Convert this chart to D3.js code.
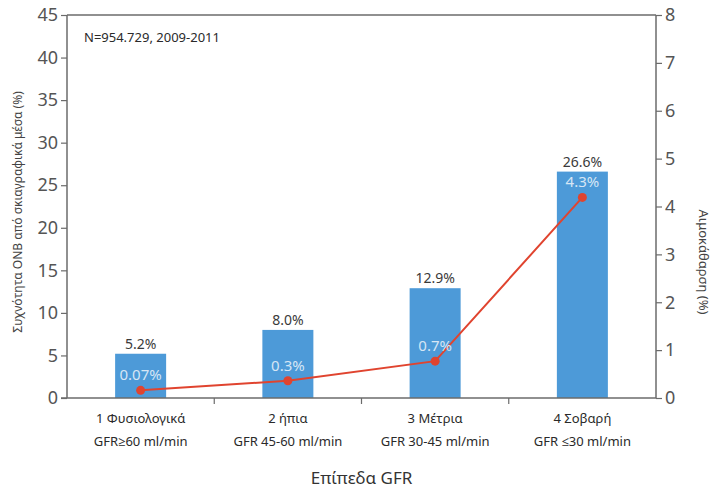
<!DOCTYPE html>
<html>
<head>
<meta charset="utf-8">
<script src="https://cdn.jsdelivr.net/npm/d3@7"></script>
<style>
  body { margin: 0; background: #fff; }
  svg text { font-family: "Noto Sans", "Open Sans", sans-serif; }
</style>
</head>
<body>
<svg id="chart" width="726" height="496"></svg>
<script>
const categories = ["1 Φυσιολογικά", "2 ήπια", "3 Μέτρια", "4 Σοβαρή"];
const subLabels = ["GFR≥60 ml/min", "GFR 45-60 ml/min", "GFR 30-45 ml/min", "GFR ≤30 ml/min"];
const onbValues = [5.2, 8.0, 12.9, 26.6];
const onbLabels = ["5.2%", "8.0%", "12.9%", "26.6%"];
// dialysis points as plotted in the picture; labels as printed
const dialysisValues = [0.16, 0.36, 0.77, 4.19];
const dialysisLabels = ["0.07%", "0.3%", "0.7%", "4.3%"];
const leftTicks = [0, 5, 10, 15, 20, 25, 30, 35, 40, 45];
const rightTicks = [0, 1, 2, 3, 4, 5, 6, 7, 8];

const svg = d3.select("#chart");
const margin = { top: 15, right: 70, bottom: 98, left: 67 };
const width = 726 - margin.left - margin.right;
const height = 496 - margin.top - margin.bottom;

const g = svg.append("g").attr("transform", `translate(${margin.left},${margin.top})`);

const x = d3.scaleBand().domain(categories).range([0, width]).paddingInner(0).paddingOuter(0);
const yL = d3.scaleLinear().domain([0, 45]).range([height, 0]);
const yR = d3.scaleLinear().domain([0, 8]).range([height, 0]);
const barW = 51;
const axisColor = "#6b6b6b";
const cx = i => x(categories[i]) + x.bandwidth() / 2;

// bars
g.selectAll(".bar")
  .data(onbValues)
  .join("rect")
  .attr("class", "bar")
  .attr("x", (d, i) => cx(i) - barW / 2)
  .attr("width", barW)
  .attr("y", d => yL(d))
  .attr("height", d => height - yL(d))
  .style("fill", "#4d9ad8");

// bar labels
g.selectAll(".bar-label")
  .data(onbValues)
  .join("text")
  .attr("x", (d, i) => cx(i))
  .attr("y", d => yL(d) - 5)
  .attr("text-anchor", "middle")
  .style("font-size", "14px")
  .style("fill", "#3a3a3a")
  .text((d, i) => onbLabels[i]);

// line
const line = d3.line()
  .x((d, i) => cx(i))
  .y(d => yR(d));

g.append("path")
  .datum(dialysisValues)
  .attr("d", line)
  .style("fill", "none")
  .style("stroke", "#e0442f")
  .style("stroke-width", 2);

g.selectAll(".dot")
  .data(dialysisValues)
  .join("circle")
  .attr("cx", (d, i) => cx(i))
  .attr("cy", d => yR(d))
  .attr("r", 4.5)
  .style("fill", "#e0442f");

g.selectAll(".line-label")
  .data(dialysisValues)
  .join("text")
  .attr("x", (d, i) => cx(i))
  .attr("y", d => yR(d) - 10)
  .attr("text-anchor", "middle")
  .style("font-size", "15px")
  .style("fill", "#d6e6f5")
  .text((d, i) => dialysisLabels[i]);

// axes
const leftAxis = g.append("g")
  .call(d3.axisLeft(yL).tickValues(leftTicks).tickSize(6).tickPadding(3));
const rightAxis = g.append("g")
  .attr("transform", `translate(${width},0)`)
  .call(d3.axisRight(yR).tickValues(rightTicks).tickSize(6).tickPadding(3));

[leftAxis, rightAxis].forEach(a => {
  a.select(".domain").style("stroke", axisColor).style("stroke-width", 1.5)
    .attr("d", `M0,${height}V0`);
  a.selectAll(".tick line").style("stroke", axisColor).style("stroke-width", 1.2);
  a.selectAll(".tick text")
    .style("font-size", "18px")
    .style("fill", "#555")
    .style("font-family", "'Noto Sans', sans-serif");
});

// top border and bottom axis
g.append("line")
  .attr("x1", 0).attr("x2", width).attr("y1", 0).attr("y2", 0)
  .style("stroke", axisColor).style("stroke-width", 1.5);
g.append("line")
  .attr("x1", -6).attr("x2", width).attr("y1", height).attr("y2", height)
  .style("stroke", axisColor).style("stroke-width", 1.5);

// category separator ticks
g.selectAll(".xtick")
  .data(categories.slice(1))
  .join("line")
  .attr("x1", d => x(d)).attr("x2", d => x(d))
  .attr("y1", height).attr("y2", height + 6)
  .style("stroke", axisColor).style("stroke-width", 1.2);

// category labels
const catText = g.selectAll(".cat")
  .data(categories)
  .join("text")
  .attr("x", d => x(d) + x.bandwidth() / 2)
  .attr("y", height + 25)
  .attr("text-anchor", "middle")
  .style("font-size", "13px")
  .style("fill", "#2a2a2a");
catText.append("tspan").text(d => d);
catText.append("tspan")
  .attr("x", d => x(d) + x.bandwidth() / 2)
  .attr("dy", 23)
  .text((d, i) => subLabels[i]);

// axis titles
g.append("text")
  .attr("x", width / 2)
  .attr("y", height + 86)
  .attr("text-anchor", "middle")
  .style("font-size", "17px")
  .style("fill", "#333")
  .text("Επίπεδα GFR");

svg.append("text")
  .attr("transform", `translate(22,${margin.top + 197}) rotate(-90)`)
  .attr("text-anchor", "middle")
  .style("font-size", "12px")
  .style("fill", "#444")
  .text("Συχνότητα ONB από σκιαγραφικά μέσα (%)");

svg.append("text")
  .attr("transform", `translate(699,${margin.top + 247}) rotate(90)`)
  .attr("text-anchor", "middle")
  .style("font-size", "13px")
  .style("fill", "#444")
  .text("Αιμοκάθαρση (%)");

// annotation
g.append("text")
  .attr("x", 17)
  .attr("y", 27)
  .style("font-size", "13px")
  .style("fill", "#2a2a2a")
  .text("N=954.729, 2009-2011");
</script>
</body>
</html>
